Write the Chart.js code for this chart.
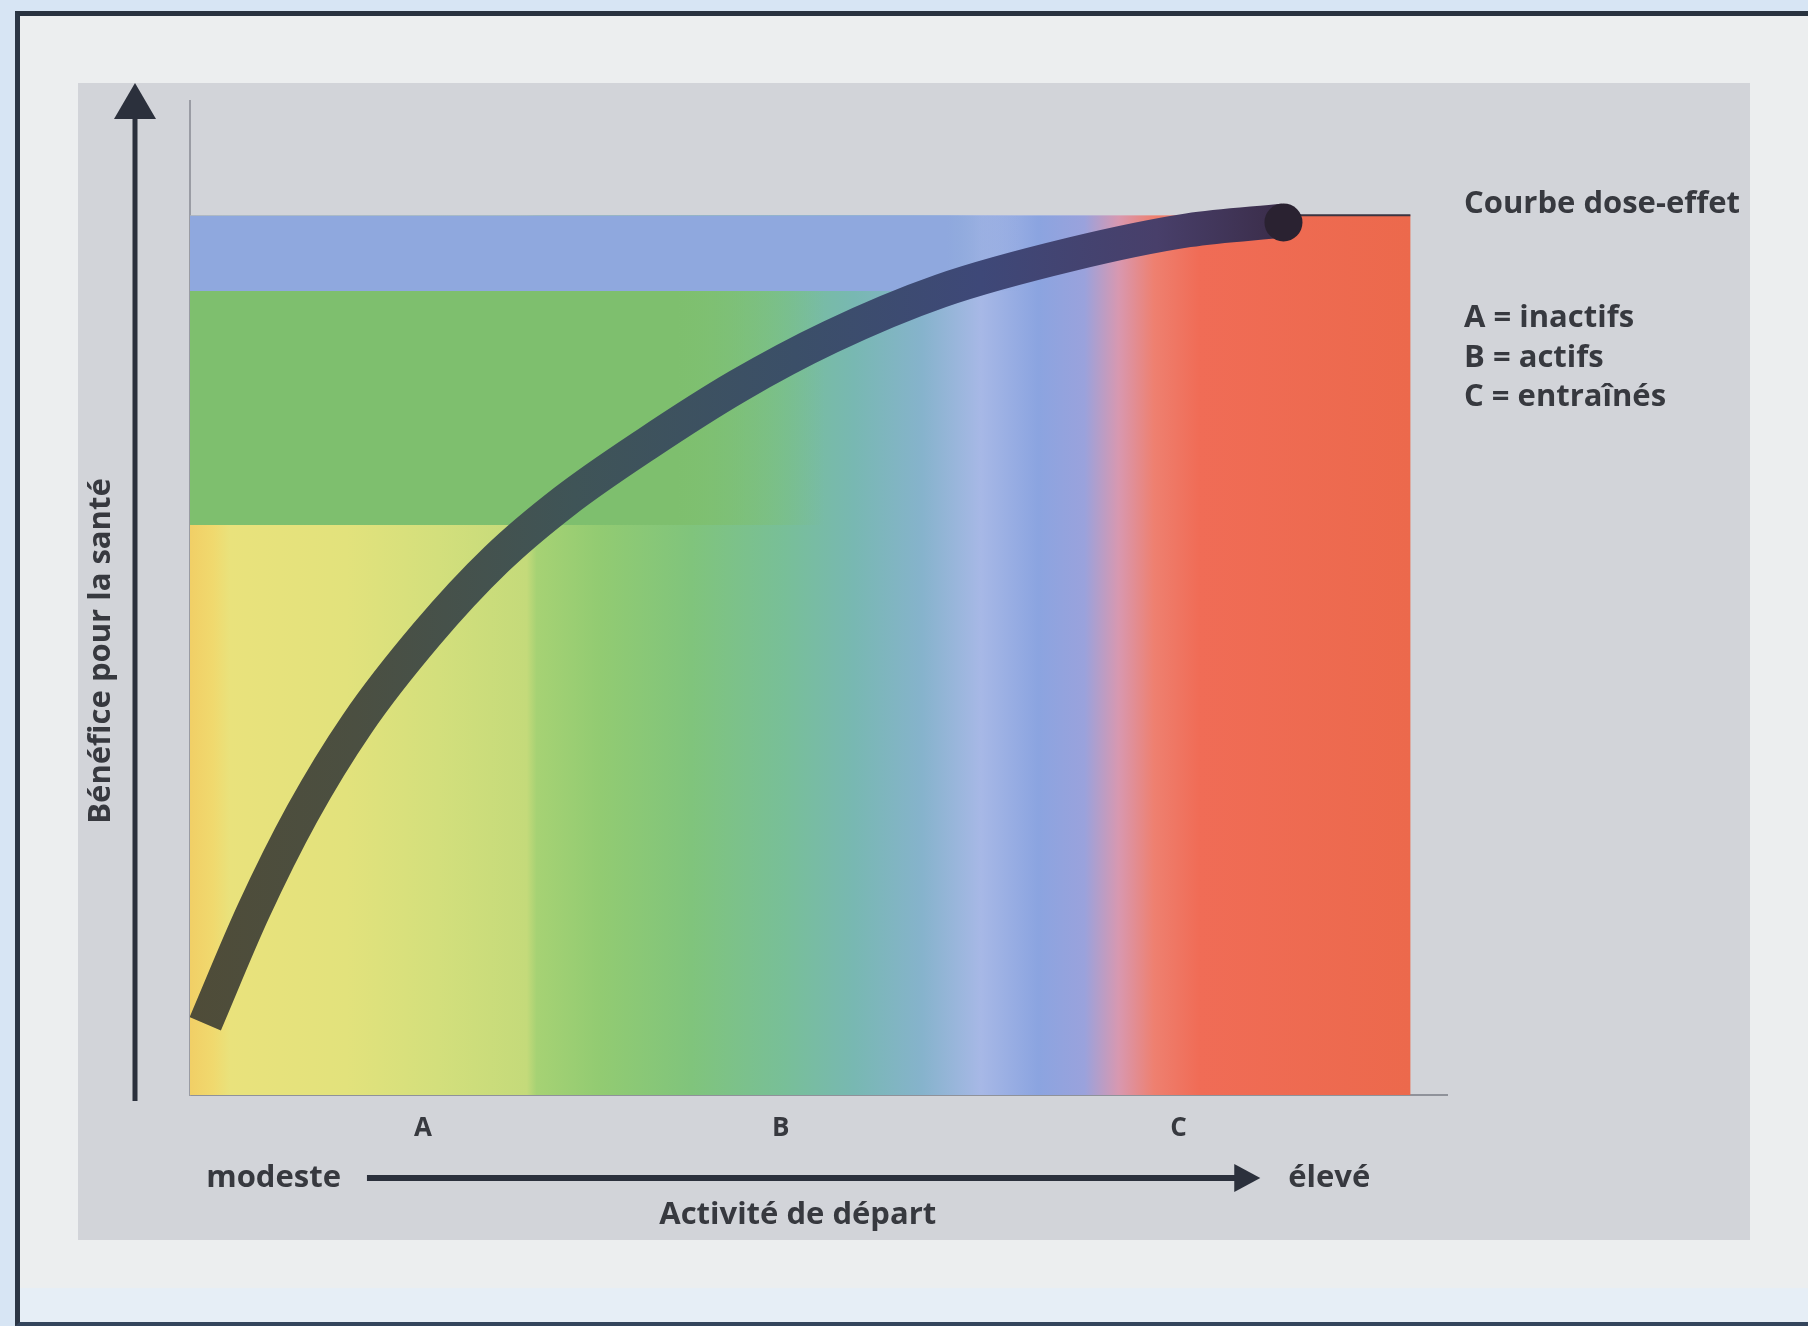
<!DOCTYPE html>
<html>
<head>
<meta charset="utf-8">
<title>Courbe dose-effet</title>
<script src="https://cdn.jsdelivr.net/npm/chart.js@4.4.0/dist/chart.umd.min.js"></script>
<style>
  html, body { margin: 0; padding: 0; }
  body { width: 1808px; height: 1326px; background: #d7e5f4; position: relative; overflow: hidden; }
  #frame { position: absolute; left: 15px; top: 11px; right: 0; bottom: 0; box-sizing: border-box;
           background: #eceeef; border-top: 5px solid #28323f; border-left: 5px solid #2b3645; border-bottom: 4px solid #34455c; }
  #strip { position: absolute; left: 20px; right: 0; top: 1288px; height: 34px; background: #e6eef6; }
  #panel { position: absolute; left: 78px; top: 83px; width: 1672px; height: 1157px; background: #d2d4d9; }
  #chart { position: absolute; left: 0; top: 0; }
</style>
</head>
<body>
<div id="frame"></div>
<div id="strip"></div>
<div id="panel"></div>
<canvas id="chart" width="1808" height="1326"></canvas>
<script>
// dose-response curve (activity -> health benefit)
const curveX = [1.25, 5.2, 9.2, 13.7, 19.4, 25.1, 30.7, 37.4, 44.9, 52.5, 61.5, 72.3, 81.8, 89.6];
const curveY = [8.1, 20.9, 32.0, 42.2, 52.4, 60.9, 67.5, 74.0, 80.6, 86.2, 91.4, 95.6, 98.3, 99.4];

// end point of the curve + pointer to the label
const endX = [89.6];
const endY = [99.2];
const pointerX = [89.6, 100];
const pointerY = [100.0, 100.0];

// groups on the activity axis
const groupLabels = ['A', 'B', 'C'];
const groupPos = [19.1, 48.4, 81.0];

// background colour zones (activity value where each colour sits)
const gradStops = [0, 1.9, 3.3, 12.8, 20.3, 27.6, 28.4, 33.6, 41.1, 48.7, 54.4, 60.0, 64.8, 69.5, 73.3, 76.1, 79.0, 82.7, 100];
const gradColors = ['#f1cf66', '#f0d96e', '#e9e27c', '#e2e27c', '#d3df7c', '#c4da7a', '#a6d274', '#92cb72',
                    '#80c47c', '#78bf98', '#78b8b2', '#86b3cc', '#a7b8e6', '#8ba4e0', '#9aa2dc', '#d898b0',
                    '#ee8070', '#f06c56', '#ec694c'];

// horizontal bands (benefit ranges) that hold a colour to the left
const bandFrom = [91.4, 64.8];
const bandTo = [100, 91.4];
const bandSolidTo = [62, 40];
const bandFadeTo = [68, 52];
const bandRGB = [[143, 168, 222], [126, 191, 110]];

const textColor = '#37393f';
const arrowColor = '#2b303c';
const FONT = "'Open Sans', 'Noto Sans', sans-serif";

const bandsPlugin = {
  id: 'bands',
  beforeDatasetsDraw(chart) {
    const { ctx, scales: { x, y } } = chart;
    const x0 = x.getPixelForValue(0), x1 = x.getPixelForValue(100);
    const yTop = y.getPixelForValue(100), yBot = y.getPixelForValue(0);
    ctx.save();
    const grad = ctx.createLinearGradient(x0, 0, x1, 0);
    gradStops.forEach((s, i) => grad.addColorStop(s / 100, gradColors[i]));
    ctx.fillStyle = grad;
    ctx.fillRect(x0, yTop, x1 - x0, yBot - yTop);

    bandFrom.forEach((lo, i) => {
      const yA = y.getPixelForValue(bandTo[i]);
      const yB = y.getPixelForValue(lo);
      const xs = x.getPixelForValue(bandSolidTo[i]);
      const xe = x.getPixelForValue(bandFadeTo[i]);
      const [r, g, b] = bandRGB[i];
      const bg = ctx.createLinearGradient(x0, 0, xe, 0);
      bg.addColorStop(0, `rgba(${r},${g},${b},1)`);
      bg.addColorStop((xs - x0) / (xe - x0), `rgba(${r},${g},${b},1)`);
      bg.addColorStop(1, `rgba(${r},${g},${b},0)`);
      ctx.fillStyle = bg;
      ctx.fillRect(x0, yA, xe - x0, yB - yA);
    });
    ctx.restore();
  }
};

function arrowHead(ctx, tipX, tipY, dx, dy, len, half) {
  // dx,dy = unit direction of the arrow
  const bx = tipX - dx * len, by = tipY - dy * len;
  ctx.beginPath();
  ctx.moveTo(tipX, tipY);
  ctx.lineTo(bx - dy * half, by + dx * half);
  ctx.lineTo(bx + dy * half, by - dx * half);
  ctx.closePath();
  ctx.fill();
}

const notesPlugin = {
  id: 'notes',
  afterDraw(chart) {
    const { ctx, chartArea: ca, scales: { x } } = chart;
    ctx.save();
    ctx.fillStyle = arrowColor;
    ctx.strokeStyle = arrowColor;

    // vertical benefit arrow
    const ax = ca.left - 55;
    ctx.lineWidth = 5;
    ctx.beginPath();
    ctx.moveTo(ax, ca.bottom + 6);
    ctx.lineTo(ax, ca.top + 10);
    ctx.stroke();
    arrowHead(ctx, ax, ca.top - 18, 0, -1, 36, 21);

    // horizontal activity arrow
    const hy = ca.bottom + 83;
    const hx0 = x.getPixelForValue(14.5), hx1 = x.getPixelForValue(87.7);
    ctx.lineWidth = 6;
    ctx.beginPath();
    ctx.moveTo(hx0, hy);
    ctx.lineTo(hx1 - 20, hy);
    ctx.stroke();
    arrowHead(ctx, hx1, hy, 1, 0, 26, 14);

    ctx.fillStyle = textColor;
    ctx.font = `700 31px ${FONT}`;
    ctx.textBaseline = 'middle';
    ctx.textAlign = 'right';
    ctx.fillText('modeste', hx0 - 26, hy);
    ctx.textAlign = 'left';
    ctx.fillText('élevé', hx1 + 28, hy);
    ctx.textAlign = 'center';
    ctx.fillText('Activité de départ', x.getPixelForValue(49.8), hy + 37);

    // y title
    ctx.save();
    ctx.translate(ca.left - 89, ca.top + 550);
    ctx.rotate(-Math.PI / 2);
    ctx.textAlign = 'center';
    ctx.fillText('Bénéfice pour la santé', 0, 0);
    ctx.restore();

    // label + key on the right
    const lx = ca.left + 1274;
    ctx.textAlign = 'left';
    ctx.fillText('Courbe dose-effet', lx, ca.top + 103);
    ctx.fillText('A = inactifs', lx, ca.top + 217);
    ctx.fillText('B = actifs', lx, ca.top + 257);
    ctx.fillText('C = entraînés', lx, ca.top + 296);
    ctx.restore();
  }
};

function curveGradient(context) {
  const { chart } = context;
  const ca = chart.chartArea;
  if (!ca) return '#3d4a5a';
  const x = chart.scales.x;
  const g = chart.ctx.createLinearGradient(x.getPixelForValue(0), 0, x.getPixelForValue(90), 0);
  g.addColorStop(0, '#4f4c38');
  g.addColorStop(0.15, '#4b4f41');
  g.addColorStop(0.35, '#3f5457');
  g.addColorStop(0.55, '#3b4f68');
  g.addColorStop(0.72, '#3e4878');
  g.addColorStop(0.88, '#483f6a');
  g.addColorStop(1, '#3a2c48');
  return g;
}

new Chart(document.getElementById('chart'), {
  type: 'line',
  data: {
    datasets: [
      {
        label: 'pointer',
        data: pointerX.map((v, i) => ({ x: v, y: pointerY[i] })),
        borderColor: '#3b3440',
        borderWidth: 2,
        pointRadius: 0,
        order: 3
      },
      {
        label: 'Courbe dose-effet',
        data: curveX.map((v, i) => ({ x: v, y: curveY[i] })),
        borderColor: curveGradient,
        borderWidth: 34,
        borderCapStyle: 'butt',
        borderJoinStyle: 'round',
        cubicInterpolationMode: 'monotone',
        pointRadius: 0,
        order: 2
      },
      {
        label: 'end',
        data: endX.map((v, i) => ({ x: v, y: endY[i] })),
        showLine: false,
        pointRadius: 19,
        pointBackgroundColor: '#2a2231',
        pointBorderWidth: 0,
        order: 1
      }
    ]
  },
  options: {
    responsive: false,
    animation: false,
    devicePixelRatio: 1,
    layout: { padding: { left: 190, top: 101, right: 361, bottom: 0 } },
    plugins: { legend: { display: false }, tooltip: { enabled: false } },
    scales: {
      x: {
        type: 'linear',
        min: 0,
        max: 103,
        afterFit: s => { s.height = 231; },
        afterBuildTicks: s => { s.ticks = groupPos.map(v => ({ value: v })); },
        grid: { display: false, drawTicks: false },
        border: { display: true, color: '#8f929a', width: 2 },
        ticks: {
          autoSkip: false,
          maxRotation: 0,
          padding: 18,
          color: textColor,
          font: { family: FONT, size: 26, weight: '700' },
          callback: (v, i) => groupLabels[i]
        }
      },
      y: {
        type: 'linear',
        min: 0,
        max: 113,
        afterFit: s => { s.width = 0; },
        grid: { display: false, drawTicks: false },
        border: { display: true, color: '#9a9ca4', width: 2 },
        ticks: { display: false }
      }
    }
  },
  plugins: [bandsPlugin, notesPlugin]
});
</script>
</body>
</html>
